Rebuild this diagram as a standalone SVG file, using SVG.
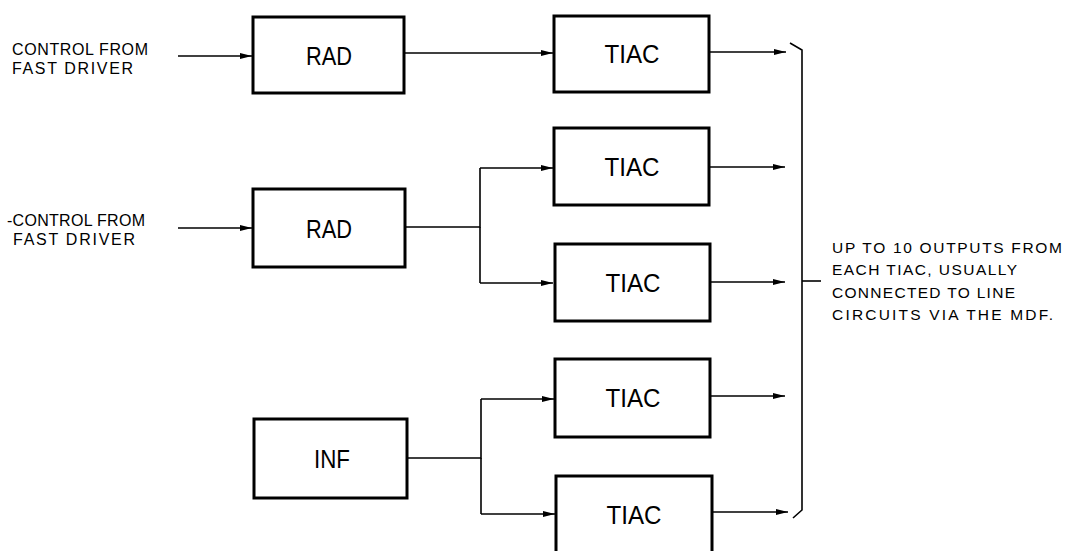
<svg xmlns="http://www.w3.org/2000/svg" width="1066" height="551" viewBox="0 0 1066 551">
<style>
.box{fill:#fff;stroke:#000;stroke-width:3}
.ln{fill:none;stroke:#000;stroke-width:1.6}
.lbl{font-family:"Liberation Sans","DejaVu Sans",sans-serif;font-size:26px;fill:#000;text-anchor:middle}
.txt{font-family:"Liberation Sans","DejaVu Sans",sans-serif;font-size:16px;fill:#000}
.txr{font-family:"Liberation Sans","DejaVu Sans",sans-serif;font-size:15.5px;fill:#000}
</style>
<defs>
<marker id="ah" markerWidth="13" markerHeight="8" refX="12" refY="4" orient="auto" markerUnits="userSpaceOnUse">
<path d="M0,1 L12,4 L0,7 Z" fill="#000"/>
</marker>
</defs>
<rect width="1066" height="551" fill="#fff"/>
<g id="connectors">
<line class="ln" x1="178" y1="56" x2="252" y2="56" marker-end="url(#ah)"/>
<line class="ln" x1="178" y1="228" x2="252" y2="228" marker-end="url(#ah)"/>
<line class="ln" x1="405" y1="53" x2="553" y2="53" marker-end="url(#ah)"/>
<path class="ln" d="M405,227 H480 V168"/>
<line class="ln" x1="480" y1="168" x2="553" y2="168" marker-end="url(#ah)"/>
<path class="ln" d="M480,227 V283"/>
<line class="ln" x1="480" y1="283" x2="553" y2="283" marker-end="url(#ah)"/>
<path class="ln" d="M407,458 H481 V399"/>
<line class="ln" x1="481" y1="399" x2="554" y2="399" marker-end="url(#ah)"/>
<path class="ln" d="M481,458 V514"/>
<line class="ln" x1="481" y1="514" x2="555" y2="514" marker-end="url(#ah)"/>
<line class="ln" x1="709" y1="52" x2="786" y2="52" marker-end="url(#ah)"/>
<line class="ln" x1="709" y1="167" x2="785" y2="167" marker-end="url(#ah)"/>
<line class="ln" x1="710" y1="282" x2="785" y2="282" marker-end="url(#ah)"/>
<line class="ln" x1="710" y1="396" x2="785" y2="396" marker-end="url(#ah)"/>
<line class="ln" x1="712" y1="512" x2="788" y2="512" marker-end="url(#ah)"/>
<path class="ln" d="M790,43 L802,50 V510 L793,518" stroke-width="2"/>
<line class="ln" x1="802" y1="281" x2="821" y2="281" stroke-width="2"/>
</g>
<g id="rad1"><rect class="box" x="253" y="17" width="151" height="76"/><text class="lbl" x="329" y="65" textLength="46" lengthAdjust="spacingAndGlyphs">RAD</text></g>
<g id="rad2"><rect class="box" x="253" y="189" width="152" height="78"/><text class="lbl" x="329" y="238" textLength="46" lengthAdjust="spacingAndGlyphs">RAD</text></g>
<g id="inf"><rect class="box" x="254" y="419" width="153" height="79"/><text class="lbl" x="332" y="468" textLength="36" lengthAdjust="spacingAndGlyphs">INF</text></g>
<g id="tiac1"><rect class="box" x="554" y="16" width="155" height="76"/><text class="lbl" x="632" y="63" textLength="55" lengthAdjust="spacingAndGlyphs">TIAC</text></g>
<g id="tiac2"><rect class="box" x="554" y="128" width="155" height="77"/><text class="lbl" x="632" y="176" textLength="55" lengthAdjust="spacingAndGlyphs">TIAC</text></g>
<g id="tiac3"><rect class="box" x="555" y="244" width="155" height="77"/><text class="lbl" x="633" y="292" textLength="55" lengthAdjust="spacingAndGlyphs">TIAC</text></g>
<g id="tiac4"><rect class="box" x="555" y="359" width="155" height="78"/><text class="lbl" x="633" y="407" textLength="55" lengthAdjust="spacingAndGlyphs">TIAC</text></g>
<g id="tiac5"><rect class="box" x="556" y="476" width="156" height="79"/><text class="lbl" x="634" y="524" textLength="55" lengthAdjust="spacingAndGlyphs">TIAC</text></g>
<g id="label-control1">
<text class="txt" x="12" y="55" textLength="136" lengthAdjust="spacing">CONTROL FROM</text>
<text class="txt" x="12" y="74" textLength="121" lengthAdjust="spacing">FAST DRIVER</text>
</g>
<g id="label-control2">
<text class="txt" x="7" y="226" textLength="138" lengthAdjust="spacing">-CONTROL FROM</text>
<text class="txt" x="13" y="245" textLength="122" lengthAdjust="spacing">FAST DRIVER</text>
</g>
<g id="label-outputs">
<text class="txr" x="832" y="253" textLength="230" lengthAdjust="spacing">UP TO 10 OUTPUTS FROM</text>
<text class="txr" x="832" y="275" textLength="185" lengthAdjust="spacing">EACH TIAC, USUALLY</text>
<text class="txr" x="832" y="298" textLength="183" lengthAdjust="spacing">CONNECTED TO LINE</text>
<text class="txr" x="832" y="320" textLength="221" lengthAdjust="spacing">CIRCUITS VIA THE MDF.</text>
</g>
</svg>
